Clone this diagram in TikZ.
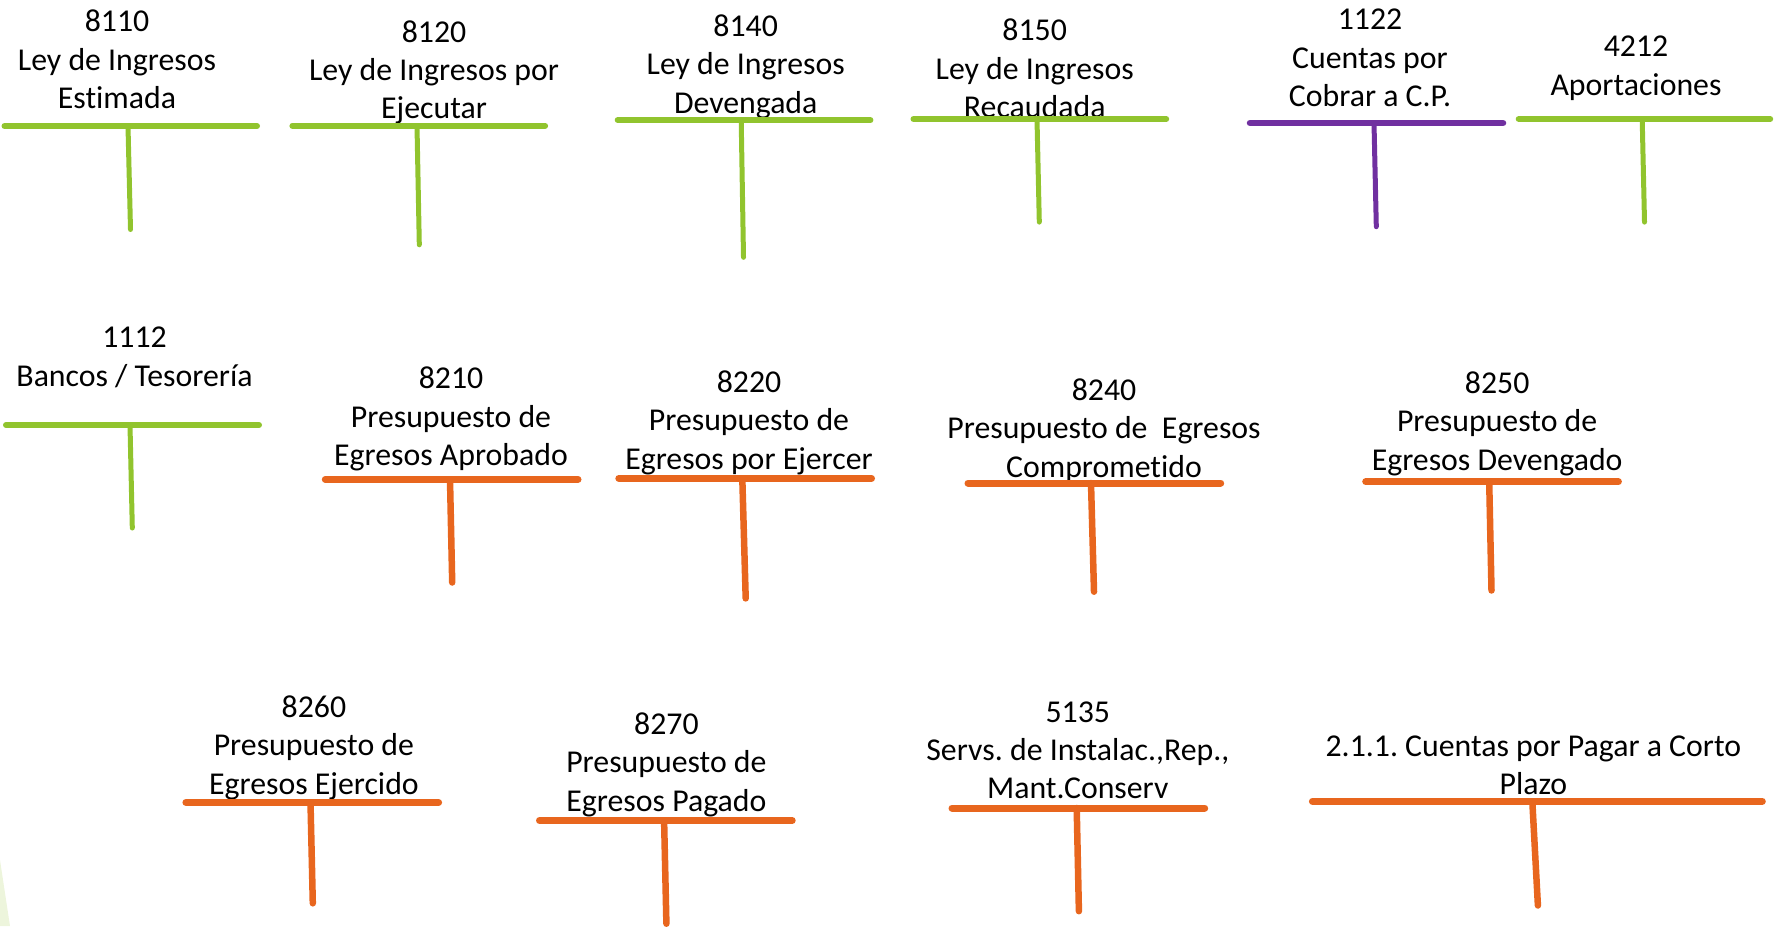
\documentclass[tikz,border=0pt]{standalone}
\usepackage{fontspec}
\setmainfont[Ligatures=NoCommon]{Carlito}
\definecolor{tgreen}{RGB}{145,196,46}
\definecolor{torange}{RGB}{232,102,30}
\definecolor{tpurple}{RGB}{112,48,160}
\definecolor{tpale}{RGB}{237,245,220}
\tikzset{
  lbl/.style={anchor=north, inner sep=0pt, align=center, text=black, yshift=-5.5pt,
    font={\frenchspacing\fontsize{31.8}{38.4}\selectfont},
    execute at begin node={\rule{0pt}{26pt}}},
  gbar/.style={draw=tgreen, line width=6pt, line cap=round},
  gstem/.style={draw=tgreen, line width=5pt, line cap=round},
  pbar/.style={draw=tpurple, line width=6.5pt, line cap=round},
  pstem/.style={draw=tpurple, line width=5pt, line cap=round},
  obar/.style={draw=torange, line width=7pt, line cap=round},
  ostem/.style={draw=torange, line width=6.5pt, line cap=round}
}
% #1 bar style, #2 stem style, #3 xl, #4 xr, #5 ybar, #6 xtop, #7 xbot, #8 ybot
\newcommand\tacct[8]{%
  \draw[#1] (#3,#5) -- (#4,#5);
  \draw[#2] (#6,#5) -- (#7,#8);
}
\begin{document}
\begin{tikzpicture}[x=1pt,y=-1pt]
\useasboundingbox (0,0) rectangle (1777,926);
\fill[tpale] (0,860) -- (10,926) -- (0,926) -- cycle;

% Row 1
\node[lbl] (n8110) at (117,4.5) {8110\\Ley de Ingresos\\Estimada};
\tacct{gbar}{gstem}{4.5}{257}{126}{128}{130.5}{229.5}
\node[lbl] (n8120) at (434,14.6) {8120\\Ley de Ingresos por\\Ejecutar};
\tacct{gbar}{gstem}{292.4}{545.1}{125.8}{417}{419.3}{244.8}
\node[lbl] (n8140) at (745.7,9) {8140\\Ley de Ingresos\\Devengada};
\tacct{gbar}{gstem}{617.7}{870.4}{120.1}{741.2}{743.5}{257.3}
\node[lbl] (n8150) at (1034.7,13.5) {8150\\Ley de Ingresos\\Recaudada};
\tacct{gbar}{gstem}{913.5}{1166.2}{119}{1037}{1039.3}{222.1}
\node[lbl] (n1122) at (1370,3.3) {1122\\Cuentas por\\Cobrar a C.P.};
\tacct{pbar}{pstem}{1250}{1503}{123}{1374}{1376.3}{226.7}
\node[lbl] (n4212) at (1636,30.5) {4212\\Aportaciones};
\tacct{gbar}{gstem}{1518.7}{1770.2}{119}{1642.2}{1644.5}{222.1}

% Row 2
\node[lbl] (n1112) at (134.5,321.3) {1112\\Bancos / Tesorería};
\tacct{gbar}{gstem}{6}{259}{425}{130}{132.3}{528}
\node[lbl] (n8210) at (451,361.4) {8210\\Presupuesto de\\Egresos Aprobado};
\tacct{obar}{ostem}{325.3}{578}{479.4}{450}{452.2}{582.5}
\node[lbl] (n8220) at (749,364.8) {8220\\Presupuesto de\\Egresos por Ejercer};
\tacct{obar}{ostem}{618.8}{871.5}{478.3}{742.3}{745.7}{598.4}
\node[lbl] (n8240) at (1104,373) {8240\\Presupuesto de\ \ Egresos\\Comprometido};
\tacct{obar}{ostem}{968}{1220.7}{483}{1091}{1094}{591.7}
\node[lbl] (n8250) at (1497.1,365.9) {8250\\Presupuesto de\\Egresos Devengado};
\tacct{obar}{ostem}{1365.7}{1618.4}{481.7}{1489.2}{1491.5}{590.5}

% Row 3
\node[lbl] (n8260) at (313.9,690) {8260\\Presupuesto de\\Egresos Ejercido};
\tacct{obar}{ostem}{185.9}{438.6}{802.4}{310.5}{312.8}{903.3}
\node[lbl] (n8270) at (666.4,707) {8270\\Presupuesto de\\Egresos Pagado};
\tacct{obar}{ostem}{539.5}{792.2}{820.5}{664.1}{666.4}{923.7}
\node[lbl] (n5135) at (1077.8,695.7) {5135\\Servs. de Instalac.,Rep.,\\Mant.Conserv};
\tacct{obar}{ostem}{952}{1204.7}{808}{1076.7}{1078.9}{911.2}
\node[lbl] (n2110) at (1533.4,729.7) {2.1.1. Cuentas por Pagar a Corto\\Plazo};
\tacct{obar}{ostem}{1312.4}{1762.3}{801.3}{1532.3}{1537.9}{905.5}
\end{tikzpicture}
\end{document}
